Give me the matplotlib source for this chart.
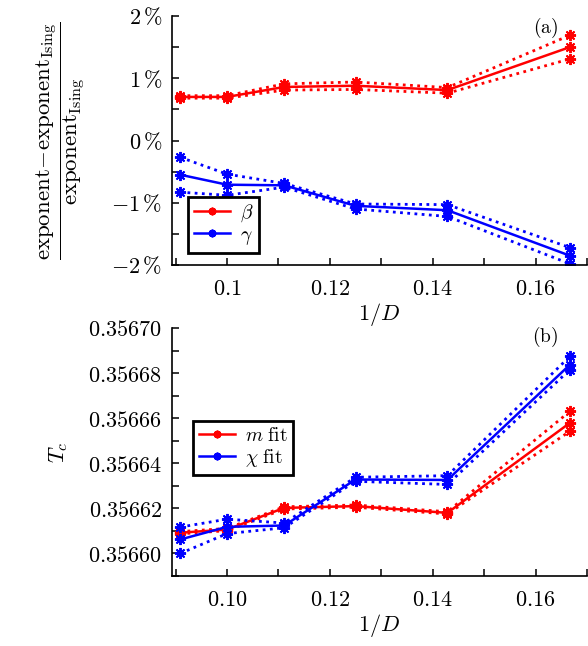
import matplotlib
matplotlib.use("Agg")
import matplotlib.pyplot as plt
from matplotlib.ticker import FixedLocator, MultipleLocator, FuncFormatter

plt.rcParams['mathtext.fontset'] = 'cm'
plt.rcParams['font.family'] = ['DejaVu Serif']

# ---------------- data ----------------
D = [11, 10, 9, 8, 7, 6]
inv_D = [1.0 / d for d in D]

# panel (a): relative deviation in percent
beta_mid = [0.70, 0.70, 0.86, 0.88, 0.81, 1.50]
beta_up  = [0.72, 0.72, 0.91, 0.94, 0.85, 1.69]
beta_lo  = [0.68, 0.68, 0.81, 0.82, 0.76, 1.31]

gamma_mid = [-0.55, -0.71, -0.72, -1.05, -1.12, -1.85]
gamma_up  = [-0.27, -0.54, -0.69, -1.02, -1.03, -1.72]
gamma_lo  = [-0.83, -0.88, -0.75, -1.10, -1.22, -1.98]

# panel (b): Tc
Tc_m_mid = [0.3566092, 0.3566106, 0.3566202, 0.3566210, 0.3566180, 0.3566579]
Tc_m_up  = [0.3566097, 0.3566111, 0.3566207, 0.3566215, 0.3566185, 0.3566630]
Tc_m_lo  = [0.3566087, 0.3566101, 0.3566197, 0.3566205, 0.3566175, 0.3566542]

Tc_c_mid = [0.3566062, 0.3566118, 0.3566124, 0.3566328, 0.3566326, 0.3566837]
Tc_c_up  = [0.3566117, 0.3566152, 0.3566135, 0.3566338, 0.3566345, 0.3566874]
Tc_c_lo  = [0.3566000, 0.3566088, 0.3566114, 0.3566320, 0.3566306, 0.3566815]

# ---------------- figure ----------------
W, H = 588, 646
fig = plt.figure(figsize=(W / 100, H / 100), dpi=100)

def px_axes(l, r, t, b):
    return fig.add_axes([l / W, 1 - b / H, (r - l) / W, (b - t) / H])

axa = px_axes(172, 587, 16, 265)
axb = px_axes(172, 587, 328, 576)

MK = (8, 2, 0)
ms = 8
mew = 1.4
lw_solid = 1.8
lw_dot = 2.0

def plot_set(ax, x, mid, up, lo, color, label):
    ax.plot(x, up, linestyle=(0, (1, 1.6)), color=color, lw=lw_dot,
            marker=MK, ms=ms, mew=mew)
    ax.plot(x, lo, linestyle=(0, (1, 1.6)), color=color, lw=lw_dot,
            marker=MK, ms=ms, mew=mew)
    h, = ax.plot(x, mid, '-', color=color, lw=lw_solid,
                 marker=MK, ms=ms, mew=mew, label=label)
    return h

ha1 = plot_set(axa, inv_D, beta_mid, beta_up, beta_lo, (1, 0, 0), r'$\beta\enspace\,$')
ha2 = plot_set(axa, inv_D, gamma_mid, gamma_up, gamma_lo, (0, 0, 1), r'$\gamma\enspace\,$')
hb1 = plot_set(axb, inv_D, Tc_m_mid, Tc_m_up, Tc_m_lo, (1, 0, 0), r'$m\ \mathrm{fit}\;$')
hb2 = plot_set(axb, inv_D, Tc_c_mid, Tc_c_up, Tc_c_lo, (0, 0, 1), r'$\chi\ \mathrm{fit}\;$')

FS = 16

for ax in (axa, axb):
    ax.set_xlim(0.0893, 0.170)
    for s in ('top', 'right'):
        ax.spines[s].set_visible(False)
    for s in ('left', 'bottom'):
        ax.spines[s].set_linewidth(1.2)
    ax.xaxis.set_major_locator(FixedLocator([0.10, 0.12, 0.14, 0.16]))
    ax.xaxis.set_minor_locator(FixedLocator([0.09, 0.11, 0.13, 0.15, 0.17]))
    ax.tick_params(which='both', direction='in', length=5, width=1.1,
                   labelsize=FS)
    ax.tick_params(axis='x', pad=9)
    ax.tick_params(axis='y', pad=7)
    ax.set_xlabel(r'$1/D$', fontsize=FS, labelpad=1)

# panel (a) axes
axa.set_ylim(-2, 2)
axa.yaxis.set_major_locator(FixedLocator([-2, -1, 0, 1, 2]))
axa.yaxis.set_minor_locator(MultipleLocator(0.5))
axa.yaxis.set_major_formatter(FuncFormatter(
    lambda v, p: r'$%d\,\%%$' % int(round(v)) if v >= 0 else r'$-%d\,\%%$' % int(round(-v))))
axa.xaxis.set_major_formatter(FuncFormatter(
    lambda v, p: r'$%s$' % ('0.1' if abs(v - 0.1) < 1e-9 else '%.2f' % v)))
axa.set_ylabel(r'$\dfrac{\mathrm{exponent}\!-\!\mathrm{exponent}_{\mathrm{Ising}}}{\mathrm{exponent}_{\mathrm{Ising}}}$',
               fontsize=16.5)
axa.yaxis.set_label_coords(-0.205, 0.5)
axa.text(0.90, 0.952, r'$\mathrm{(a)}$', transform=axa.transAxes,
         fontsize=14, ha='center', va='center')

# panel (b) axes
axb.set_ylim(0.35659, 0.35670)
axb.yaxis.set_major_locator(FixedLocator([0.35660, 0.35662, 0.35664, 0.35666, 0.35668, 0.35670]))
axb.yaxis.set_minor_locator(FixedLocator([0.35659, 0.35661, 0.35663, 0.35665, 0.35667, 0.35669]))
axb.yaxis.set_major_formatter(FuncFormatter(lambda v, p: r'$%.5f$' % v))
axb.xaxis.set_major_formatter(FuncFormatter(lambda v, p: r'$%.2f$' % v))
axb.set_ylabel(r'$T_c$', fontsize=FS)
axb.yaxis.set_label_coords(-0.246, 0.5)
axb.text(0.90, 0.964, r'$\mathrm{(b)}$', transform=axb.transAxes,
         fontsize=14, ha='center', va='center')

def legend(ax, handles, anchor):
    lg = ax.legend(handles=handles, loc='lower left', bbox_to_anchor=anchor,
                   borderaxespad=0, fancybox=False, edgecolor='black',
                   framealpha=1, fontsize=14, handlelength=1.85,
                   handletextpad=0.5, borderpad=0.3, labelspacing=0.1,
                   markerscale=0.7, numpoints=1)
    lg.get_frame().set_linewidth(2.0)
    return lg

legend(axa, [ha1, ha2], (0.0386, 0.048))
legend(axb, [hb1, hb2], (0.0506, 0.407))

fig.savefig('out.png', dpi=100)
